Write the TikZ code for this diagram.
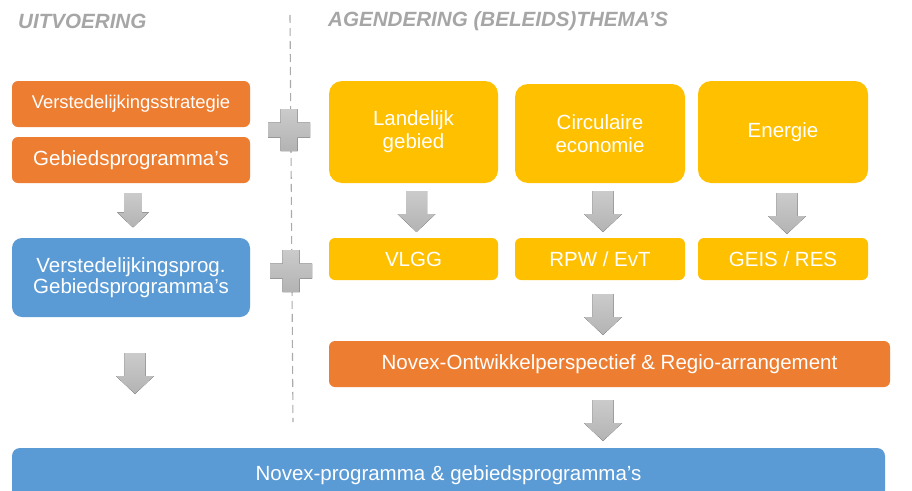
\documentclass[tikz,border=0pt]{standalone}
\usepackage{fontspec}
\setmainfont{Liberation Sans}
\definecolor{orng}{HTML}{ED7D31}
\definecolor{ylw}{HTML}{FFC000}
\definecolor{blu}{HTML}{5B9BD5}
\definecolor{hgry}{HTML}{A6A6A6}
\definecolor{dgry}{HTML}{ABABAB}
\definecolor{arrtop}{HTML}{CBCBCB}
\definecolor{arrbot}{HTML}{B3B3B3}
\tikzset{
  box/.style={rounded corners=#1, inner sep=0pt, text=white,
    font=\fontsize{20.5}{23}\selectfont, align=center},
  obox/.style={box=6pt, fill=orng},
  ybig/.style={box=13pt, fill=ylw},
  ysmall/.style={box=6pt, fill=ylw},
  bbox/.style={box=10pt, fill=blu},
  heading/.style={anchor=west, inner sep=0pt, text=hgry,
    font=\fontsize{20.6}{24}\selectfont\bfseries\itshape},
  blockarrow/.pic={
    \fill[top color=arrtop, bottom color=arrbot]
      (-10.5,0) -- (10.5,0) -- (10.5,23) -- (19,23) -- (0,41)
      -- (-19,23) -- (-10.5,23) -- cycle;
  },
  plussign/.pic={
    \fill[top color=arrtop, bottom color=arrbot]
      (-8.5,-21) -- (8.5,-21) -- (8.5,-7.5) -- (21,-7.5) -- (21,7.5)
      -- (8.5,7.5) -- (8.5,21) -- (-8.5,21) -- (-8.5,7.5) -- (-21,7.5)
      -- (-21,-7.5) -- (-8.5,-7.5) -- cycle;
  }
}
\begin{document}
\begin{tikzpicture}[x=1pt,y=-1pt]
\useasboundingbox[fill=white] (0,0) rectangle (912,490);

% headings
\node[heading] (h1) at (18,21) {UITVOERING};
\node[heading] (h2) at (328,21) {AGENDERING (BELEIDS)THEMA’S};

% divider
\coordinate (dtop) at (290,15);
\coordinate (dbot) at (293,422);
\draw[dgry, line width=1.1pt, dash pattern=on 8pt off 5pt] (dtop) -- (dbot);

% left column
\node[obox, minimum width=238pt, minimum height=46pt, font=\fontsize{18.4}{22}\selectfont] (vs) at (131,104) {Verstedelijkingsstrategie};
\node[obox, minimum width=238pt, minimum height=46pt] (gp) at (131,160) {Gebiedsprogramma’s};
\node[bbox, minimum width=238pt, minimum height=79pt, font=\fontsize{20.5}{21}\selectfont] (vp) at (131,277.5) {Verstedelijkingsprog.\\Gebiedsprogramma’s};

% themes
\node[ybig, minimum width=169pt, minimum height=102pt] (lg) at (413.5,132) {Landelijk\\gebied};
\node[ybig, minimum width=170pt, minimum height=99pt] (ce) at (600,133.5) {Circulaire\\economie};
\node[ybig, minimum width=170pt, minimum height=102pt] (en) at (783,132) {Energie};

\node[ysmall, minimum width=169pt, minimum height=42pt] (vlgg) at (413.5,259) {VLGG};
\node[ysmall, minimum width=170pt, minimum height=42pt] (rpw) at (600,259) {RPW / EvT};
\node[ysmall, minimum width=170pt, minimum height=42pt] (geis) at (783,259) {GEIS / RES};

\node[obox, minimum width=561pt, minimum height=46pt] (nox) at (609.5,364) {Novex-Ontwikkelperspectief \& Regio-arrangement};
\node[box=8pt, fill=blu, minimum width=873pt, minimum height=50pt, text depth=0pt] (npg) at (448.5,473) {Novex-programma \& gebiedsprogramma’s};

% plus signs
\pic at (289,130) {plussign};
\pic at (291,271) {plussign};

% block arrows
\pic[scale=0.84] at ([xshift=2pt]gp.south |- 0,193) {blockarrow};
\pic at ([xshift=4pt]vp.south |- 0,353) {blockarrow};
\pic at ([xshift=3pt]lg.south |- 0,191) {blockarrow};
\pic at ([xshift=3pt]ce.south |- 0,191) {blockarrow};
\pic at ([xshift=4pt]en.south |- 0,193) {blockarrow};
\pic at ([xshift=3pt]rpw.south |- 0,294) {blockarrow};
\pic at ([xshift=3pt]rpw.south |- 0,400) {blockarrow};
\end{tikzpicture}
\end{document}
